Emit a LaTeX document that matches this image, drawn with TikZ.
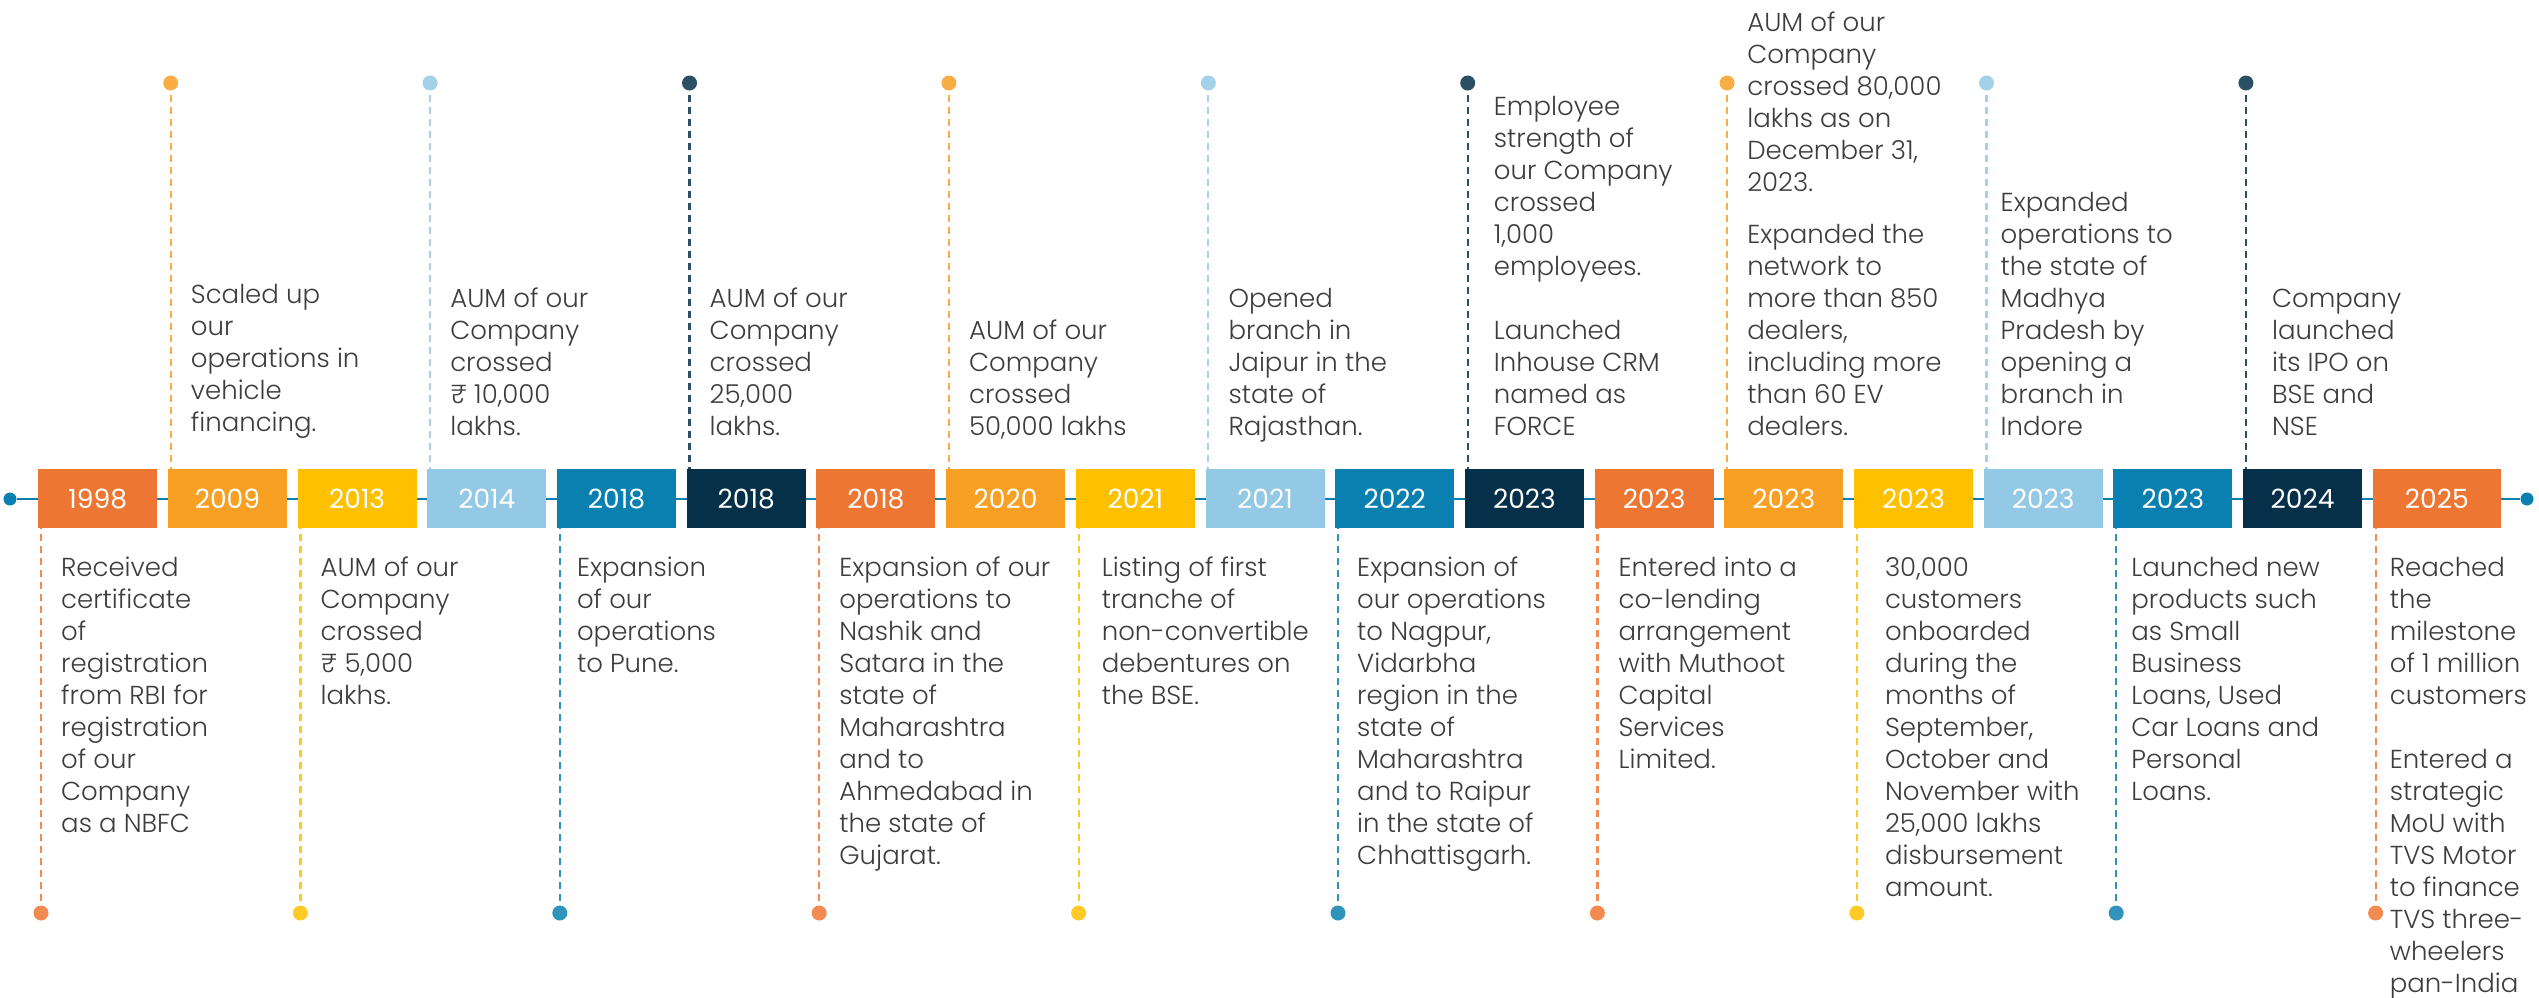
\documentclass[tikz,border=0pt]{standalone}
\usepackage{fontspec}
\setmainfont{Poppins}[UprightFont=* Light]
\newfontfamily\yearfont{Poppins}
\definecolor{cA}{HTML}{EE7633}
\definecolor{cB}{HTML}{F8A024}
\definecolor{cC}{HTML}{FFC000}
\definecolor{cD}{HTML}{93C9E5}
\definecolor{cE}{HTML}{0A80B0}
\definecolor{cF}{HTML}{06304A}
\definecolor{txt}{HTML}{3D3D3D}
\newcommand\uplines[1]{\vbox{\baselineskip=32pt\lineskiplimit=-40pt\halign{##\hfil\cr#1\crcr}}}
\newcommand\downlines[1]{\vtop{\baselineskip=32pt\lineskiplimit=-40pt\halign{##\hfil\cr#1\crcr}}}
\tikzset{
  yearbox/.style={rectangle, anchor=north west, inner sep=0pt, minimum height=59pt, text=white, font=\yearfont\fontsize{26.5}{30}\selectfont},
  dotc/.style={circle, inner sep=0pt, minimum size=15pt},
  enddot/.style={circle, inner sep=0pt, minimum size=13pt, fill=cE},
  dashline/.style={line width=2.2pt, dash pattern=on 7pt off 5pt},
  uptext/.style={anchor=base west, inner sep=0pt, text=txt, font=\fontsize{26}{32}\selectfont},
  downtext/.style={anchor=base west, inner sep=0pt, text=txt, font=\fontsize{26}{32}\selectfont},
}
\begin{document}
\begin{tikzpicture}[x=1pt, y=-1pt]
\useasboundingbox (0,0) rectangle (2539,997);
\clip (0,0) rectangle (2539,997);
\node[enddot] (ls) at (10,499) {};
\node[enddot] (re) at (2527,499) {};
\draw[cE, line width=2.5pt] (ls) -- (re);
\foreach \i/\yr/\c/\w in {0/1998/cA/119, 1/2009/cB/119, 2/2013/cC/119, 3/2014/cD/119, 4/2018/cE/119, 5/2018/cF/119, 6/2018/cA/119, 7/2020/cB/119, 8/2021/cC/119, 9/2021/cD/119, 10/2022/cE/119, 11/2023/cF/119, 12/2023/cA/119, 13/2023/cB/119, 14/2023/cC/119, 15/2023/cD/119, 16/2023/cE/119, 17/2024/cF/119, 18/2025/cA/128}{
  \pgfmathsetmacro\L{38+129.7*\i}
  \node[yearbox, fill=\c, minimum width=\w pt] (y\i) at (\L,469) {\yr};
  \pgfmathtruncatemacro\odd{mod(\i,2)}
  \ifnum\odd=1
    \node[dotc, fill=\c!85!white] (d\i) at (\L+3,83) {};
    \draw[dashline, draw=\c!85!white] (d\i.center) -- (d\i.center |- y\i.north);
  \else
    \node[dotc, fill=\c!85!white] (d\i) at (\L+3,913) {};
    \draw[dashline, draw=\c!85!white] (d\i.center) -- (d\i.center |- y\i.south);
  \fi
}
% texts above
\node[uptext] (x1) at ([xshift=23pt,yshift=38pt]y1.north west) {\uplines{Scaled up\cr our\cr operations in\cr vehicle\cr financing.}};
\node[uptext] (x3) at ([xshift=23pt,yshift=34pt]y3.north west) {\uplines{AUM of our\cr Company\cr crossed\cr ₹ 10,000\cr lakhs.}};
\node[uptext] (x5) at ([xshift=23pt,yshift=34pt]y5.north west) {\uplines{AUM of our\cr Company\cr crossed\cr 25,000\cr lakhs.}};
\node[uptext] (x7) at ([xshift=23pt,yshift=34pt]y7.north west) {\uplines{AUM of our\cr Company\cr crossed\cr 50,000 lakhs}};
\node[uptext] (x9) at ([xshift=23pt,yshift=34pt]y9.north west) {\uplines{Opened\cr branch in\cr Jaipur in the\cr state of\cr Rajasthan.}};
\node[uptext] (x11) at ([xshift=29pt,yshift=34pt]y11.north west) {\uplines{Employee\cr strength of\cr our Company\cr crossed\cr 1,000\cr employees.\cr \cr Launched\cr Inhouse CRM\cr named as\cr FORCE}};
\node[uptext] (x13) at ([xshift=23pt,yshift=34pt]y13.north west) {\uplines{AUM of our\cr Company\cr crossed 80,000\cr lakhs as on\cr December 31,\cr 2023.\cr\noalign{\vskip 20pt} Expanded the\cr network to\cr more than 850\cr dealers,\cr including more\cr than 60 EV\cr dealers.}};
\node[uptext] (x15) at ([xshift=17pt,yshift=34pt]y15.north west) {\uplines{Expanded\cr operations to\cr the state of\cr Madhya\cr Pradesh by\cr opening a\cr branch in\cr Indore}};
\node[uptext] (x17) at ([xshift=29pt,yshift=34pt]y17.north west) {\uplines{Company\cr launched\cr its IPO on\cr BSE and\cr NSE}};
% texts below
\node[downtext] (x0) at ([xshift=23pt,yshift=-48pt]y0.south west) {\downlines{Received\cr certificate\cr of\cr registration\cr from RBI for\cr registration\cr of our\cr Company\cr as a NBFC}};
\node[downtext] (x2) at ([xshift=23pt,yshift=-48pt]y2.south west) {\downlines{AUM of our\cr Company\cr crossed\cr ₹ 5,000\cr lakhs.}};
\node[downtext] (x4) at ([xshift=20pt,yshift=-48pt]y4.south west) {\downlines{Expansion\cr of our\cr operations\cr to Pune.}};
\node[downtext] (x6) at ([xshift=23pt,yshift=-48pt]y6.south west) {\downlines{Expansion of our\cr operations to\cr Nashik and\cr Satara in the\cr state of\cr Maharashtra\cr and to\cr Ahmedabad in\cr the state of\cr Gujarat.}};
\node[downtext] (x8) at ([xshift=26pt,yshift=-48pt]y8.south west) {\downlines{Listing of first\cr tranche of\cr non-convertible\cr debentures on\cr the BSE.}};
\node[downtext] (x10) at ([xshift=22pt,yshift=-48pt]y10.south west) {\downlines{Expansion of\cr our operations\cr to Nagpur,\cr Vidarbha\cr region in the\cr state of\cr Maharashtra\cr and to Raipur\cr in the state of\cr Chhattisgarh.}};
\node[downtext] (x12) at ([xshift=24pt,yshift=-48pt]y12.south west) {\downlines{Entered into a\cr co-lending\cr arrangement\cr with Muthoot\cr Capital\cr Services\cr Limited.}};
\node[downtext] (x14) at ([xshift=31pt,yshift=-48pt]y14.south west) {\downlines{30,000\cr customers\cr onboarded\cr during the\cr months of\cr September,\cr October and\cr November with\cr 25,000 lakhs\cr disbursement\cr amount.}};
\node[downtext] (x16) at ([xshift=18pt,yshift=-48pt]y16.south west) {\downlines{Launched new\cr products such\cr as Small\cr Business\cr Loans, Used\cr Car Loans and\cr Personal\cr Loans.}};
\node[downtext] (x18) at ([xshift=17pt,yshift=-48pt]y18.south west) {\downlines{Reached\cr the\cr milestone\cr of 1 million\cr customers\cr \cr Entered a\cr strategic\cr MoU with\cr TVS Motor\cr to finance\cr TVS three-\cr wheelers\cr pan-India}};
\end{tikzpicture}
\end{document}
